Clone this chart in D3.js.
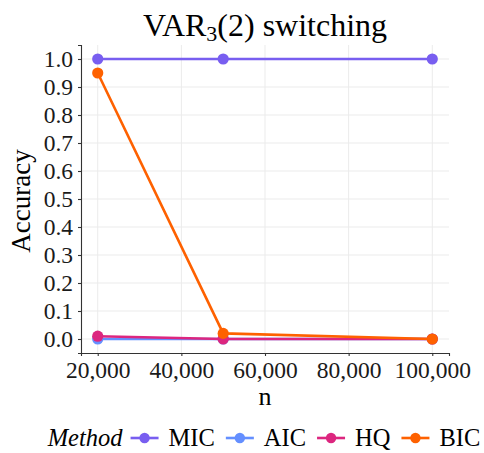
<!DOCTYPE html>
<html>
<head>
<meta charset="utf-8">
<script src="https://cdn.jsdelivr.net/npm/d3@7"></script>
<style>
  body { margin: 0; background: #fff; }
  svg { display: block; }
</style>
</head>
<body>
<div id="chart"></div>
<script>

// ---- data -------------------------------------------------------------
var sampleSizes = [20000, 50000, 100000];
var methods = ["MIC", "AIC", "HQ", "BIC"];
var micAcc = [1.00, 1.00, 1.00];
var aicAcc = [0.00, 0.00, 0.00];
var hqAcc  = [0.01, 0.00, 0.00];
var bicAcc = [0.95, 0.02, 0.00];
var xTicks = [20000, 40000, 60000, 80000, 100000];
var yTicks = [0, 0.1, 0.2, 0.3, 0.4, 0.5, 0.6, 0.7, 0.8, 0.9, 1.0];

var colors = { MIC: "#785EF0", AIC: "#648FFF", HQ: "#DC267F", BIC: "#FE6100" };
var values = { MIC: micAcc, AIC: aicAcc, HQ: hqAcc, BIC: bicAcc };

// ---- settings ---------------------------------------------------------
var width = 484, height = 453;
var margin = { top: 45, right: 35, bottom: 100, left: 81 };
var innerW = width - margin.left - margin.right;
var innerH = height - margin.top - margin.bottom;
var font = "'Liberation Serif', 'DejaVu Serif', serif";
var axisColor = "#333333";

var series = methods.map(function(m) {
    return { key: m, points: sampleSizes.map(function(n, i) { return { n: n, v: values[m][i] }; }) };
});

var svg = d3.select("#chart").append("svg")
    .attr("width", width)
    .attr("height", height);

// ggplot-style 5% expansion
var x = d3.scaleLinear().domain([16000, 104000]).range([0, innerW]);
var y = d3.scaleLinear().domain([-0.05, 1.05]).range([innerH, 0]);

var g = svg.append("g").attr("transform", "translate(" + margin.left + "," + margin.top + ")");

// grid
g.append("g").selectAll("line.gx")
    .data(xTicks)
    .join("line")
    .attr("x1", d => x(d)).attr("x2", d => x(d))
    .attr("y1", 0).attr("y2", innerH)
    .attr("stroke", "#ebebeb").attr("stroke-width", 1);
g.append("g").selectAll("line.gy")
    .data(yTicks)
    .join("line")
    .attr("y1", d => y(d)).attr("y2", d => y(d))
    .attr("x1", 0).attr("x2", innerW)
    .attr("stroke", "#ebebeb").attr("stroke-width", 1);

// axes
var xAxis = g.append("g")
    .attr("transform", "translate(0," + innerH + ")")
    .call(d3.axisBottom(x).tickValues(xTicks).tickSizeOuter(0).tickSize(3).tickPadding(4)
        .tickFormat(d3.format(",")));
var yAxis = g.append("g")
    .call(d3.axisLeft(y).tickValues(yTicks).tickSizeOuter(0).tickSize(3).tickPadding(5)
        .tickFormat(d3.format(".1f")));

[xAxis, yAxis].forEach(function(a) {
    a.select(".domain").attr("stroke", axisColor).attr("stroke-width", 1.1);
    a.selectAll(".tick line").attr("stroke", axisColor).attr("stroke-width", 1.1);
    a.selectAll(".tick text")
        .attr("fill", "#1a1a1a")
        .attr("font-family", font)
        .attr("font-size", 23.5);
});
yAxis.selectAll(".tick text").attr("dy", "0.33em");
xAxis.selectAll(".tick text").attr("dy", "0.75em");

// lines & points
var line = d3.line().x(d => x(d.n)).y(d => y(d.v));

var sg = g.append("g").selectAll("g.series")
    .data(series)
    .join("g");

sg.append("path")
    .attr("d", d => line(d.points))
    .attr("fill", "none")
    .attr("stroke", d => colors[d.key])
    .attr("stroke-width", 2.6);

sg.selectAll("circle")
    .data(d => d.points.map(p => ({ n: p.n, v: p.v, key: d.key })))
    .join("circle")
    .attr("cx", d => x(d.n))
    .attr("cy", d => y(d.v))
    .attr("r", 5.6)
    .attr("fill", d => colors[d.key]);

// title
var title = svg.append("text")
    .attr("x", margin.left + innerW / 2)
    .attr("y", 36)
    .attr("text-anchor", "middle")
    .attr("font-family", font)
    .attr("font-size", 32)
    .attr("fill", "#000");
title.append("tspan").text("VAR");
title.append("tspan").attr("font-size", 22).attr("dy", 5).text("3");
title.append("tspan").attr("dy", -5).text("(2) switching");

// axis titles
svg.append("text")
    .attr("x", margin.left + innerW / 2)
    .attr("y", 405)
    .attr("text-anchor", "middle")
    .attr("font-family", font)
    .attr("font-size", 26)
    .text("n");

svg.append("text")
    .attr("transform", "translate(30," + (margin.top + innerH / 2 + 2) + ") rotate(-90)")
    .attr("text-anchor", "middle")
    .attr("font-family", font)
    .attr("font-size", 27)
    .text("Accuracy");

// legend
var legend = svg.append("g");
var ly = 438;
var cursor = 0;
var lt = legend.append("text")
    .attr("x", cursor).attr("y", ly).attr("dy", "0.33em")
    .attr("font-family", font).attr("font-style", "italic").attr("font-size", 24.5)
    .text("Method");
cursor += lt.node().getComputedTextLength() + 8;

methods.forEach(function(m) {
    legend.append("line")
        .attr("x1", cursor).attr("x2", cursor + 28)
        .attr("y1", ly).attr("y2", ly)
        .attr("stroke", colors[m]).attr("stroke-width", 2.6);
    legend.append("circle")
        .attr("cx", cursor + 14).attr("cy", ly).attr("r", 5.2)
        .attr("fill", colors[m]);
    cursor += 38;
    var t = legend.append("text")
        .attr("x", cursor).attr("y", ly).attr("dy", "0.33em")
        .attr("font-family", font).attr("font-size", 24.5)
        .text(m);
    cursor += t.node().getComputedTextLength() + 11;
});
cursor -= 11;
legend.attr("transform", "translate(" + (264 - cursor / 2) + ",0)");

</script>
</body>
</html>
